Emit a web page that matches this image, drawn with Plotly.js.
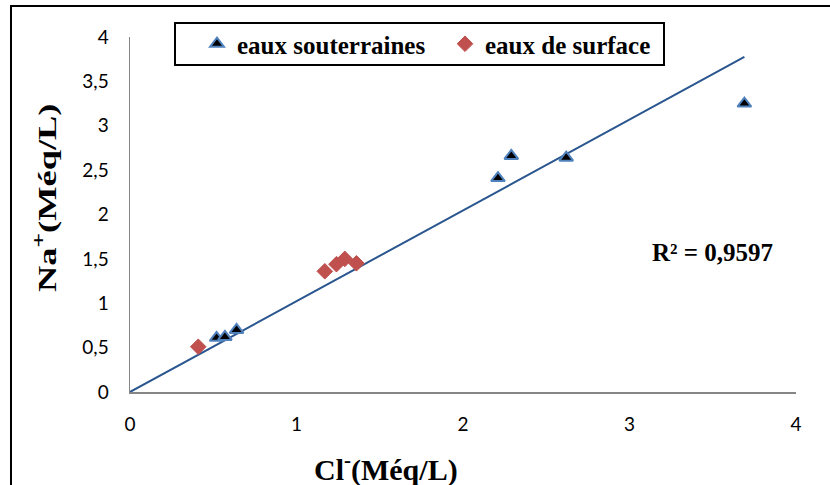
<!DOCTYPE html>
<html>
<head>
<meta charset="utf-8">
<script src="https://cdn.plot.ly/plotly-3.0.1.min.js"></script>
<style>
  html, body { margin: 0; padding: 0; background: #fff; overflow: hidden; }
  #frame { position: absolute; left: 10px; top: 5px; width: 840px; height: 500px; border: 2px solid #000; box-sizing: border-box; pointer-events: none; z-index: 10; }
  #chart { position: absolute; left: 0; top: 0; width: 830px; height: 485px; }
</style>
</head>
<body>
<div id="chart"></div>
<div id="frame"></div>
<script>
// Data
const groundLabel = "eaux souterraines";
const groundX = [0.52, 0.57, 0.64, 2.21, 2.29, 2.62, 3.69];
const groundY = [0.61, 0.62, 0.70, 2.41, 2.66, 2.64, 3.25];

const surfaceLabel = "eaux de surface";
const surfaceX = [0.41, 1.17, 1.24, 1.29, 1.36];
const surfaceY = [0.51, 1.36, 1.44, 1.50, 1.45];

const trendX = [0, 3.69];
const trendY = [0, 3.775];

const xTicks = [0, 1, 2, 3, 4];
const yTicks = [0, 0.5, 1, 1.5, 2, 2.5, 3, 3.5, 4];
const r2Text = "R² = 0,9597";
const xTitle = "Cl<sup>-</sup>(Méq/L)";
const yTitle = "Na<sup>+</sup>(Méq/L)";

const serif = "Liberation Serif";
const sans = "Lato";

const traces = [
  {
    x: trendX, y: trendY, mode: "lines", type: "scatter",
    line: { color: "#2a568f", width: 2 }, showlegend: false, hoverinfo: "skip"
  },
  {
    x: groundX, y: groundY, mode: "markers", type: "scatter", name: "<b>" + groundLabel + "</b>",
    marker: { symbol: "triangle-up", size: 12, color: "#000000", line: { color: "#4f81bd", width: 2 } }
  },
  {
    x: surfaceX, y: surfaceY, mode: "markers", type: "scatter", name: "<b>" + surfaceLabel + "</b>",
    marker: { symbol: "diamond", size: 12, color: "#c0504d", line: { color: "#c0504d", width: 1 } }
  }
];

const axisCommon = {
  showgrid: false, zeroline: false, showline: true, linecolor: "#868686", linewidth: 1.5,
  ticks: "", tickfont: { family: sans, size: 19, color: "#000" }, fixedrange: true
};

function px2x(p) { return (p - 130) / 666; }
function px2y(p) { return (392 - p) / 355; }

const layout = {
  width: 830, height: 485,
  margin: { l: 130, r: 34, t: 37, b: 93 },
  paper_bgcolor: "#ffffff", plot_bgcolor: "#ffffff",
  separators: ", ",
  xaxis: Object.assign({}, axisCommon, {
    range: [0, 4], tickvals: xTicks, ticklabelstandoff: 15
  }),
  yaxis: Object.assign({}, axisCommon, {
    range: [0, 4], tickvals: yTicks, ticklabelstandoff: 16
  }),
  legend: {
    orientation: "h", x: px2x(197), y: px2y(44), xanchor: "left", yanchor: "middle",
    borderwidth: 0, bgcolor: "rgba(0,0,0,0)",
    font: { family: serif, size: 25, color: "#000" },
    itemwidth: 30, entrywidth: 203, traceorder: "normal"
  },
  showlegend: true,
  shapes: [
    { type: "rect", xref: "paper", yref: "paper",
      x0: px2x(175), x1: px2x(664), y0: px2y(65), y1: px2y(23),
      line: { color: "#000", width: 2 }, fillcolor: "#fff", layer: "below" }
  ],
  annotations: [
    { xref: "paper", yref: "paper", x: px2x(712), y: px2y(252), xanchor: "center", yanchor: "middle",
      text: "<b>" + r2Text + "</b>", showarrow: false,
      font: { family: serif, size: 25, color: "#000" } },
    { xref: "paper", yref: "paper", x: px2x(386), y: px2y(467), xanchor: "center", yanchor: "middle",
      text: "<b>" + xTitle + "</b>", showarrow: false,
      font: { family: serif, size: 30, color: "#000" } },
    { xref: "paper", yref: "paper", x: px2x(46), y: px2y(198), xanchor: "center", yanchor: "middle",
      text: "<b>" + yTitle + "</b>", showarrow: false, textangle: -90,
      font: { family: serif, size: 26, color: "#000" } }
  ]
};

Plotly.newPlot("chart", traces, layout, { displayModeBar: false, staticPlot: true }).then(function () {
  // The reference's vertical title is drawn stretched along its length
  const anns = document.querySelectorAll("#chart .annotation");
  const yt = anns[2] && anns[2].querySelector("text.annotation-text");
  if (yt) {
    yt.style.transformBox = "fill-box";
    yt.style.transformOrigin = "center";
    yt.style.transform = "scaleX(1.4)";
  }
});
</script>
</body>
</html>
